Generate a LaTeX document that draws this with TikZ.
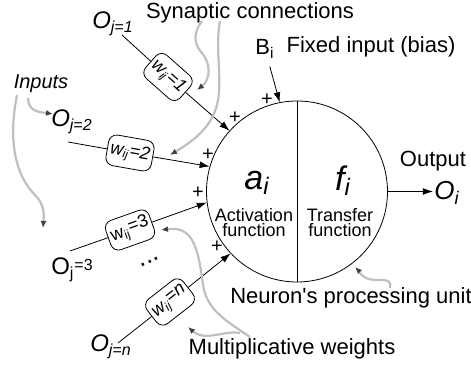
\documentclass[tikz,border=0pt]{standalone}
\usepackage{fontspec}
\setmainfont{Liberation Sans}
\usetikzlibrary{calc,arrows.meta}

\newcommand{\fsz}[1]{\fontsize{#1}{#1}\selectfont}

\begin{document}
\begin{tikzpicture}[x=0.5pt,y=-0.5pt,>={Latex[length=5pt,width=3.4pt]},
  neuron/.style={draw,circle,minimum size=90.5pt,inner sep=0pt},
  wbox/.style={draw,rounded corners=4pt,minimum width=23pt,minimum height=15.5pt,inner sep=1pt,font=\fsz{9}\itshape},
  plus/.style={inner sep=0pt,font=\fsz{10}},
  lbl/.style={inner sep=0pt,font=\fsz{11}},
  olbl/.style={inner sep=0.5pt,font=\fsz{12}\itshape},
  gcurve/.style={line width=1.1pt,draw=gray!50,-{Latex[length=3.5pt,width=3pt,color=black!75]}}]
\useasboundingbox (0,0) rectangle (471,367);

% neuron
\node[neuron] (neuron) at (297,191.5) {};
\draw (neuron.north) -- (neuron.south);
\node[inner sep=0pt,font=\fsz{17}\itshape] (a) at (257,183) {a\textsubscript{i}};
\node[inner sep=0pt,font=\fsz{17}\itshape] (f) at (343,181) {f\textsubscript{i}};
\node[inner sep=0pt,font=\fontsize{9}{7.6}\selectfont,align=center] (act) at (254,222.5) {Activation\\function};
\node[inner sep=0pt,font=\fontsize{9}{7.6}\selectfont,align=center] (tra) at (340,222.5) {Transfer\\function};

% inputs
\coordinate (s1) at (122,35);
\coordinate (s2) at (68,142);
\coordinate (s3) at (70,251);
\coordinate (sn) at (118,343);
\node[olbl] (o1) at (113,24) {O\textsubscript{j=1}};
\node[olbl] (o2) at (72,122) {O\textsubscript{j=2}};
\node[olbl,font=\fsz{12}] (o3) at (72,270) {O\textsubscript{j}\raisebox{.35ex}{\fsz{8}=3}};
\node[olbl] (on) at (111,347) {O\textsubscript{j=n}};

\node[wbox,rotate=-41.5] (w1) at (168,77) {w\textsubscript{ij}=1};
\node[wbox,rotate=-10] (w2) at (130,153) {w\textsubscript{ij}=2};
\node[wbox,rotate=19.6,font=\fsz{9}] (w3) at (130,230) {w\textsubscript{ij}\raisebox{.3ex}{=3}};
\node[wbox,rotate=38] (wn) at (170,302) {w\textsubscript{ij}\raisebox{.3ex}{=n}};

\draw (s1) -- (w1); \draw[->] (w1) -- (neuron.138);
\draw (s2) -- (w2); \draw[->] (w2) -- (neuron.164.5);
\draw (s3) -- (w3); \draw[->] (w3) -- (neuron.187);
\draw (sn) -- (wn); \draw[->] (wn) -- (neuron.223.5);
\node[rotate=22,inner sep=0pt,font=\fsz{13}] (dots) at (150,262) {...};

\node[plus] (p0) at (267,100) {+};
\node[plus] (p1) at (235,118) {+};
\node[plus] (p2) at (208,155) {+};
\node[plus] (p3) at (198,193) {+};
\node[plus] (p4) at (217,247) {+};

% bias and output
\node[lbl] (bi) at (265,49) {B\textsubscript{i}};
\node[lbl] (fixed) at (371,47) {Fixed input (bias)};
\draw[->,shorten <=4pt] (bi) -- (neuron.101);
\node[lbl] (output) at (433,161) {Output};
\node[olbl,font=\fsz{13}\itshape] (oi) at (447,193) {O\textsubscript{i}};
\draw[->] (neuron.east) -- (neuron.east -| oi.west);

% captions
\node[lbl] (syn) at (250,12.5) {Synaptic connections};
\node[lbl,font=\fsz{10}\itshape] (inputs) at (41,84) {Inputs};
\node[lbl] (unit) at (351,298) {Neuron\textquotesingle s processing unit};
\node[lbl] (mult) at (292,349) {Multiplicative weights};

% gray pointers
\coordinate (g1) at (202,21);
\coordinate (g2) at (220,21);
\coordinate (g3) at (250,337);
\coordinate (g4) at (240,333);
\coordinate (g5) at (390,288);
\coordinate (g6) at (17,95);
\coordinate (g7) at (28,98);
\draw[gcurve] (g1) .. controls (194,32) and (193,42) .. (201,52) .. controls (212,64) and (210,80) .. (197,90);
\draw[gcurve] (g2) .. controls (215,45) and (222,80) .. (218,100) .. controls (214,125) and (195,140) .. (170,155);
\draw[gcurve] (g3) .. controls (225,320) and (207,310) .. (203,285) .. controls (198,245) and (192,226) .. (161,230);
\draw[gcurve] (g4) .. controls (225,330) and (205,342) .. (188,327);
\draw[gcurve] (g5) .. controls (393,275) and (375,283) .. (366,278) .. controls (360,275) and (358,270) .. (355,267);
\draw[gcurve] (g6) .. controls (8,140) and (15,175) .. (35,195) .. controls (45,205) and (44,215) .. (43,228);
\draw[gcurve] (g7) .. controls (28,112) and (40,112) .. (53,114);
\end{tikzpicture}
\end{document}
